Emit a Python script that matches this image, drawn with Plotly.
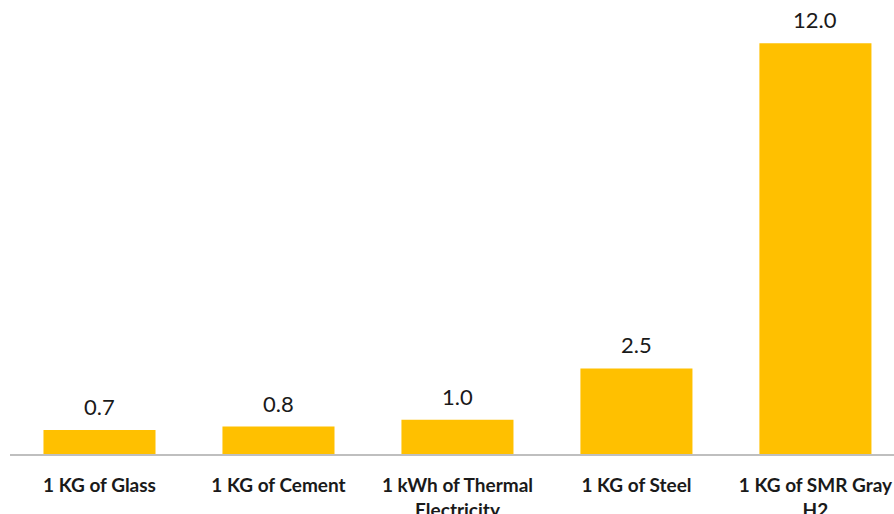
import plotly.graph_objects as go

categories = ["1 KG of Glass", "1 KG of Cement", "1 kWh of Thermal<br>Electricity",
              "1 KG of Steel", "1 KG of SMR Gray<br>H2"]
values = [0.7, 0.8, 1.0, 2.5, 12.0]
value_labels = ["0.7", "0.8", "1.0", "2.5", "12.0"]

fig = go.Figure()
fig.add_trace(go.Bar(x=categories, y=values, marker=dict(color="#FFC000", line=dict(width=0)),
                     hoverinfo="skip"))
for c, v, t in zip(categories, values, value_labels):
    fig.add_annotation(x=c, y=v, text=t, showarrow=False, yanchor="bottom", yshift=8,
                       font=dict(family="Lato, Carlito, Calibri, sans-serif", size=22, color="#1a1a1a"))

fig.update_layout(
    width=894, height=514,
    margin=dict(l=10, r=0, t=9, b=60, autoexpand=False),
    paper_bgcolor="white", plot_bgcolor="white",
    bargap=0.374, showlegend=False,
    xaxis=dict(range=[-0.5, 4.439], showline=True, linecolor="#BFBFBF", linewidth=2,
               ticks="", ticklabelstandoff=13, showgrid=False, zeroline=False, automargin=False,
               tickfont=dict(family="Lato, Carlito, Calibri, sans-serif", size=19, color="#1a1a1a",
                             weight="bold")),
    yaxis=dict(range=[0, 13], visible=False, showgrid=False, zeroline=False, automargin=False),
)
fig.write_html("out.html")
